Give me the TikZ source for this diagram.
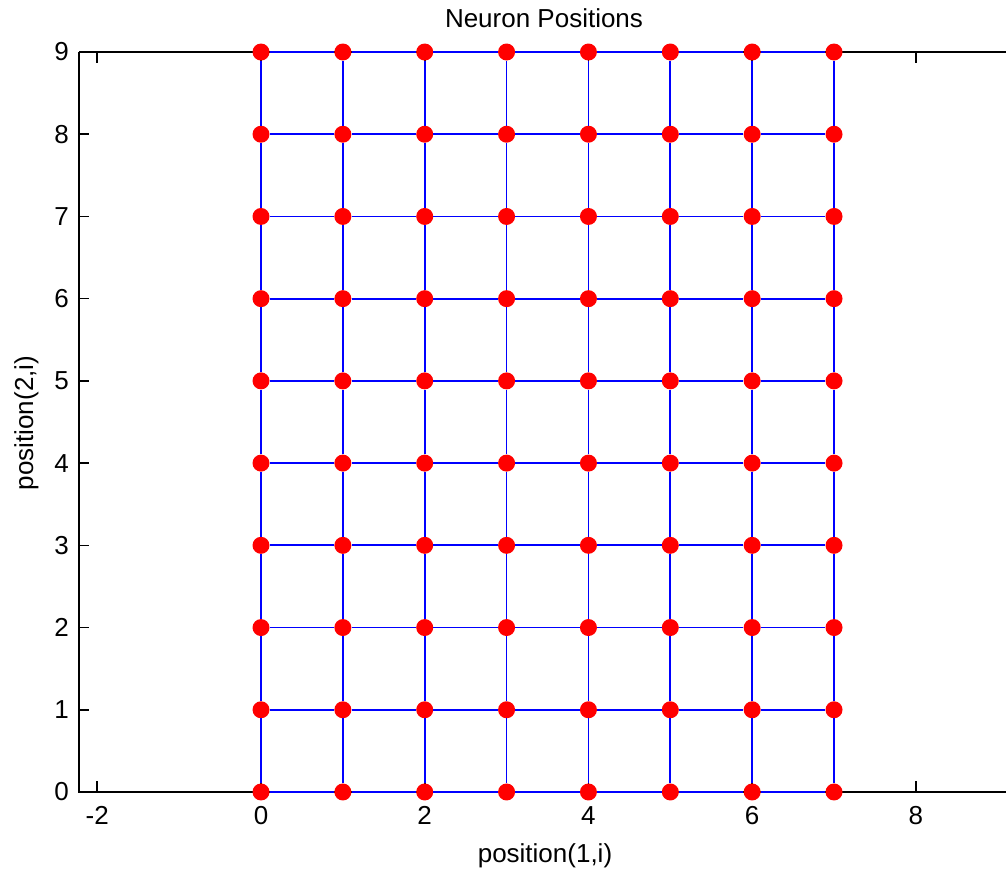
\documentclass[tikz,border=0pt]{standalone}
\usepackage{fontspec}
\setmainfont{Liberation Sans}
\begin{document}
\begin{tikzpicture}[x=1pt,y=1pt,
  axisline/.style={black,line width=1.6pt},
  gridline/.style={blue,line width=1.7pt},
  dot/.style={circle,fill=red,draw=none,minimum size=17pt,inner sep=0pt},
  lbl/.style={font=\fontsize{26}{30}\selectfont,inner sep=0pt}]
\useasboundingbox (0,0) rectangle (1006,872);
\clip (0,0) rectangle (1006,872);
% axes
\draw[axisline] (79,820) -- (79,80) -- (1006,80);
\draw[axisline] (79,820) -- (1006,820);
\foreach \j in {0,...,9} {
  \draw[axisline] (79,80+82.22*\j) -- ++(10,0);
  \node[lbl,anchor=east] at (69,80+82.22*\j) {\j};
}
\foreach \x in {-2,0,2,4,6,8} {
  \draw[axisline] (261+81.86*\x,80) -- ++(0,11);
  \draw[axisline] (261+81.86*\x,820) -- ++(0,-11);
}
\foreach \x in {-2,0,2,4,6,8} {
  \node[lbl,anchor=base] at (261+81.86*\x,47) {\x};
}
\node[lbl,anchor=base] (title) at (544,844) {Neuron Positions};
\node[lbl,anchor=base] (xlab) at (545,9) {position(1,i)};
\node[lbl,anchor=base,rotate=90] (ylab) at (33,449) {position(2,i)};
% neurons
\foreach \i in {0,...,7} {
  \foreach \j in {0,...,9} {
    \node[dot] (n-\i-\j) at (261+81.86*\i,80+82.22*\j) {};
  }
}
\foreach \i [evaluate=\i as \ni using int(\i+1)] in {0,...,6} {
  \foreach \j in {0,...,9} {
    \draw[gridline] (n-\i-\j) -- (n-\ni-\j);
  }
}
\foreach \i in {0,...,7} {
  \foreach \j [evaluate=\j as \nj using int(\j+1)] in {0,...,8} {
    \draw[gridline] (n-\i-\j) -- (n-\i-\nj);
  }
}
\end{tikzpicture}
\end{document}
